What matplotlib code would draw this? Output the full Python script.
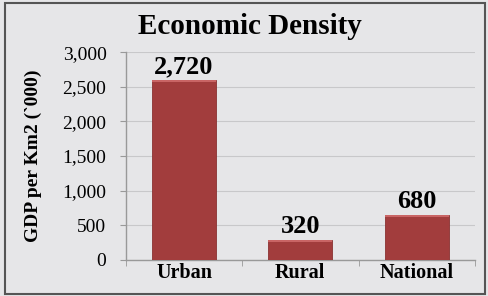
import matplotlib.pyplot as plt
from matplotlib.patches import Rectangle

categories = ["Urban", "Rural", "National"]
bar_heights = [2600, 290, 650]
value_labels = ["2,720", "320", "680"]
yticks = [0, 500, 1000, 1500, 2000, 2500, 3000]

plt.rcParams["font.family"] = ["Liberation Serif", "DejaVu Serif"]

fig = plt.figure(figsize=(4.88, 2.96), dpi=100)
fig.patch.set_facecolor("#e6e6e8")
fig.patches.append(Rectangle((0.011, 0.008), 0.983, 0.983, transform=fig.transFigure,
                             fill=False, edgecolor="#555555", linewidth=1.5))

ax = fig.add_axes([0.258, 0.122, 0.715, 0.702])
ax.set_facecolor("#e6e6e8")

x = list(range(len(categories)))
ax.bar(x, bar_heights, width=0.55, color="#a23d3d", edgecolor="#8a3232",
       linewidth=0.6, zorder=3)
# lighter top edge like the original shading
ax.bar(x, [25] * len(bar_heights), bottom=[h - 25 for h in bar_heights],
       width=0.55, color="#c96565", linewidth=0, zorder=4)

for xi, h, lab in zip(x, bar_heights, value_labels):
    ax.annotate(lab, (xi, h), xytext=(0, 1), textcoords="offset points",
                ha="center", va="bottom", fontsize=19, fontweight="bold", zorder=5)

ax.set_xlim(-0.5, 2.5)
ax.set_ylim(0, 3000)
ax.set_yticks(yticks)
ax.set_yticklabels([f"{v:,}" for v in yticks], fontsize=14)
ax.set_xticks(x)
ax.set_xticklabels(categories, fontsize=14.5, fontweight="bold")
ax.set_xticks([-0.5, 0.5, 1.5, 2.5], minor=True)
ax.tick_params(axis="x", which="major", length=0, pad=2)
ax.tick_params(axis="x", which="minor", length=4, color="#999999")
ax.tick_params(axis="y", length=4, color="#999999", pad=10)

ax.grid(axis="y", color="#c8c8ca", linewidth=0.8, zorder=0)
for side in ["top", "right"]:
    ax.spines[side].set_visible(False)
for side in ["left", "bottom"]:
    ax.spines[side].set_color("#999999")
    ax.spines[side].set_linewidth(1.0)

ax.set_ylabel("GDP per Km2 (`000)", fontsize=14, fontweight="bold", labelpad=15)
fig.text(0.512, 0.909, "Economic Density", ha="center", va="center",
         fontsize=21, fontweight="bold")

fig.savefig("out.png", dpi=100, facecolor=fig.get_facecolor())
